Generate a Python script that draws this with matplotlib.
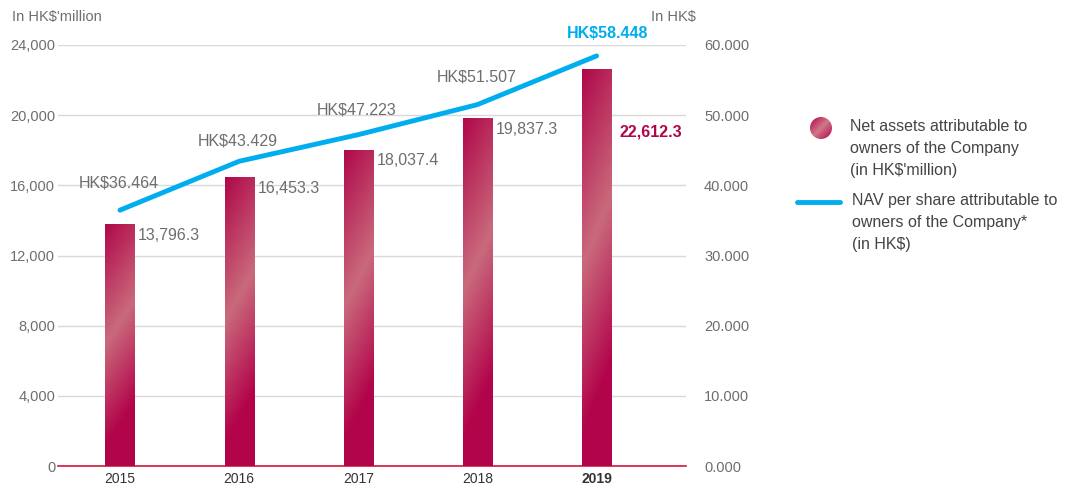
import numpy as np
import matplotlib
matplotlib.use("Agg")
from matplotlib import pyplot as plt
from matplotlib.colors import LinearSegmentedColormap
from matplotlib.lines import Line2D

plt.rcParams['font.family'] = ['Liberation Sans', 'DejaVu Sans']

# data
years = ['2015', '2016', '2017', '2018', '2019']
net_assets = [13796.3, 16453.3, 18037.4, 19837.3, 22612.3]
nav_per_share = [36.464, 43.429, 47.223, 51.507, 58.448]
asset_labels = ['13,796.3', '16,453.3', '18,037.4', '19,837.3', '22,612.3']
nav_labels = ['HK$36.464', 'HK$43.429', 'HK$47.223', 'HK$51.507', 'HK$58.448']

crimson = '#B2044A'
blue = '#00AEEF'
grey = '#6E6E6E'

fig = plt.figure(figsize=(10.72, 4.88), dpi=100)
ax = fig.add_axes([58 / 1072, 22 / 488, 628 / 1072, 421 / 488])
ax2 = ax.twinx()

x = np.arange(len(years))
width = 0.245

# gradient bars
grad_cmap = LinearSegmentedColormap.from_list(
    'bar', [(0.0, '#B0084A'), (0.42, '#C96A7C'), (0.78, '#B2044A'), (1.0, '#B2044A')])
bars = ax.bar(x, net_assets, width=width, color='none', zorder=3)
for b in bars:
    x0, y0 = b.get_x(), b.get_y()
    w, h = b.get_width(), b.get_height()
    yy, xx = np.mgrid[0:1:200j, 0:1:40j]
    t = np.clip((1 - yy) * 0.85 + xx * 0.15, 0, 1)
    im = ax.imshow(t, cmap=grad_cmap, aspect='auto', origin='lower',
                   extent=[x0, x0 + w, y0, y0 + h], zorder=3, vmin=0, vmax=1)
    im.set_clip_path(b)

ax.set_xlim(-0.52, 4.75)
ax.set_ylim(0, 24000)
ax.set_yticks(range(0, 24001, 4000))
ax.set_yticklabels(['{:,}'.format(v) for v in range(0, 24001, 4000)])
ax.grid(axis='y', color='#D9D9D9', linewidth=1, zorder=0)
ax.set_axisbelow(True)
ax.set_xticks(x)
ax.set_xticklabels(years)
for lab in ax.get_xticklabels():
    lab.set_color('#333333')
    lab.set_fontsize(10)
ax.get_xticklabels()[-1].set_fontweight('bold')
ax.tick_params(axis='y', length=0, labelsize=10.5, labelcolor=grey, pad=2)
ax.tick_params(axis='x', length=0, pad=4)
for s in ['top', 'left', 'right']:
    ax.spines[s].set_visible(False)
ax.spines['bottom'].set_color('#D4163C')
ax.spines['bottom'].set_linewidth(1.2)

ax2.set_ylim(0, 60)
ax2.set_yticks(range(0, 61, 10))
ax2.set_yticklabels(['{:.3f}'.format(v) for v in range(0, 61, 10)])
ax2.tick_params(axis='y', length=0, labelsize=10.5, labelcolor=grey, pad=13)
for s in ax2.spines.values():
    s.set_visible(False)

# line
ax2.plot(x, nav_per_share, color=blue, linewidth=3.5, solid_capstyle='round', zorder=5)

# bar labels
for i, (v, lab) in enumerate(zip(net_assets, asset_labels)):
    if i == len(years) - 1:
        ax.text(x[i] + width / 2 + 0.07, v - 3600, lab, color=crimson, fontsize=11.5,
                fontweight='bold', va='center', ha='left', zorder=6)
    else:
        ax.text(x[i] + width / 2 + 0.03, v - 650, lab, color=grey, fontsize=11.5,
                va='center', ha='left', zorder=6)

# line labels
offsets = [3.9, 2.9, 3.5, 4.0, 3.2]
for i, (v, lab) in enumerate(zip(nav_per_share, nav_labels)):
    if i == len(years) - 1:
        ax2.text(x[i] + 0.09, v + offsets[i], lab, color=blue, fontsize=11.5,
                 fontweight='bold', ha='center', va='center', zorder=6)
    else:
        ax2.text(x[i] - 0.01, v + offsets[i], lab, color=grey, fontsize=11.5,
                 ha='center', va='center', zorder=6)

# axis titles
fig.text(12 / 1072, 1 - 17 / 488, "In HK$'million", color=grey, fontsize=10.5, va='center')
fig.text(651 / 1072, 1 - 17 / 488, "In HK$", color=grey, fontsize=10.5, va='center')

# legend
lax = fig.add_axes([0, 0, 1, 1], facecolor='none')
lax.set_xlim(0, 1072)
lax.set_ylim(488, 0)
lax.axis('off')
yy, xx = np.mgrid[0:1:60j, 0:1:60j]
t = np.clip(yy * 0.5 + xx * 0.5, 0, 1)
circ_cmap = LinearSegmentedColormap.from_list('c', ['#B2044A', '#D07888', '#B2044A'])
im = lax.imshow(t, cmap=circ_cmap, extent=[810, 832, 139, 117], zorder=3)
circle = plt.Circle((821, 128), 11, transform=lax.transData, facecolor='none', edgecolor='none')
lax.add_patch(circle)
im.set_clip_path(circle)
lax.add_line(Line2D([797, 840], [202, 202], color=blue, linewidth=3.5, solid_capstyle='round'))
lax.text(850, 119, "Net assets attributable to\nowners of the Company\n(in HK$'million)",
         color='#444444', fontsize=11.5, va='top', ha='left', linespacing=1.6)
lax.text(852, 193, 'NAV per share attributable to\nowners of the Company*\n(in HK$)',
         color='#444444', fontsize=11.5, va='top', ha='left', linespacing=1.6)

fig.savefig('out.png', dpi=100)
